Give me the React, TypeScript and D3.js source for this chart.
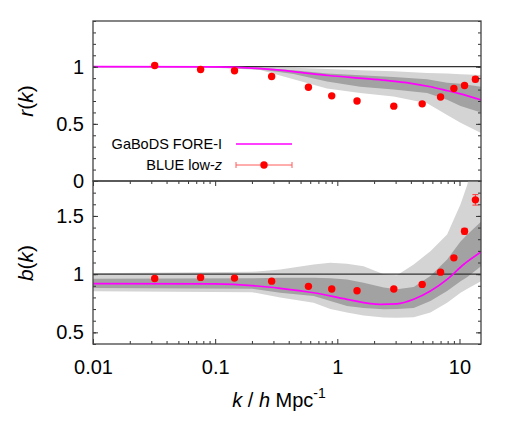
import React, { useEffect, useRef } from "react";
import * as d3 from "d3";

// BLUE low-z measurements
const pointK = [0.032, 0.076, 0.144, 0.29, 0.58, 0.9, 1.45, 2.9, 4.95, 7.0, 9.0, 11.0, 13.5];
const pointR = [1.01, 0.975, 0.965, 0.915, 0.82, 0.745, 0.7, 0.655, 0.675, 0.735, 0.81, 0.835, 0.89];
const pointRErr = [0.005, 0.004, 0.004, 0.004, 0.004, 0.004, 0.004, 0.004, 0.005, 0.006, 0.01, 0.015, 0.022];
const pointB = [0.963, 0.972, 0.966, 0.94, 0.895, 0.872, 0.858, 0.872, 0.912, 1.017, 1.14, 1.368, 1.638];
const pointBErr = [0.006, 0.006, 0.006, 0.006, 0.006, 0.006, 0.006, 0.006, 0.008, 0.01, 0.015, 0.025, 0.045];

// GaBoDS FORE-I, r(k)
const rLineK = [0.01, 0.1, 0.2, 0.34, 0.5, 0.85, 1.5, 2.5, 4, 5.8, 8, 10, 15];
const rLine = [1.0, 0.998, 0.988, 0.97, 0.95, 0.923, 0.9, 0.88, 0.855, 0.825, 0.79, 0.765, 0.71];
const rBandK = [0.01, 0.08, 0.234, 0.438, 0.823, 1.54, 2.89, 5.43, 7.92, 10.2, 15];
const rLightLo = [1.0, 0.995, 0.971, 0.89, 0.81, 0.77, 0.74, 0.68, 0.577, 0.51, 0.42];
const rLightHi = [1.0, 1.0, 0.995, 0.99, 0.98, 0.97, 0.96, 0.945, 0.94, 0.935, 0.927];
const rDarkLo = [1.0, 0.998, 0.975, 0.936, 0.87, 0.825, 0.8, 0.77, 0.71, 0.656, 0.6];
const rDarkHi = [1.0, 1.0, 0.99, 0.97, 0.94, 0.925, 0.91, 0.89, 0.86, 0.85, 0.825];

// GaBoDS FORE-I, b(k)
const bLineK = [0.01, 0.1, 0.22, 0.341, 0.64, 1.2, 2.25, 3.08, 4.22, 5.78, 7.92, 10.8, 15];
const bLine = [0.918, 0.916, 0.898, 0.878, 0.84, 0.784, 0.741, 0.745, 0.784, 0.855, 0.955, 1.083, 1.19];
const bBandK = [0.01, 0.2, 0.341, 0.64, 0.877, 1.2, 1.64, 2.4, 3.08, 4.22, 5.78, 7.92, 10.2, 11.6, 15];
const bLightLo = [0.852, 0.845, 0.8, 0.755, 0.7, 0.67, 0.645, 0.627, 0.625, 0.63, 0.67, 0.755, 0.84, 0.875, 0.94];
const bLightHi = [1.008, 1.02, 1.04, 1.083, 1.097, 1.09, 1.068, 1.0, 0.99, 1.083, 1.197, 1.34, 1.6, 1.77, 2.3];
const bDarkLo = [0.88, 0.875, 0.84, 0.812, 0.77, 0.726, 0.71, 0.698, 0.7, 0.71, 0.77, 0.855, 0.94, 0.975, 1.068];
const bDarkHi = [0.96, 0.965, 0.97, 0.968, 0.965, 0.955, 0.926, 0.885, 0.87, 0.89, 0.983, 1.126, 1.28, 1.34, 1.45];

const xTickVals = [0.01, 0.1, 1, 10];
const xTickLabels = ["0.01", "0.1", "1", "10"];
const rTickVals = [0, 0.5, 1];
const rTickLabels = ["0", "0.5", "1"];
const bTickVals = [0.5, 1, 1.5];
const bTickLabels = ["0.5", "1", "1.5"];

const FONT = "'Liberation Sans', Arial, Helvetica, sans-serif";

function App() {
    const ref = useRef(null);

    useEffect(() => {
        drawChart(ref.current);
    }, []);

    return <svg ref={ref} width={520} height={436}
        style={{ position: "absolute", left: 0, top: 0, background: "#fff" }} />;
}

function drawChart(node) {
    const svg = d3.select(node);
    svg.selectAll("*").remove();

    const left = 93, right = 481;
    const x = d3.scaleLog().domain([0.01, 15]).range([left, right]);
    const yR = d3.scaleLinear().domain([0, 1.4]).range([181, 21]);
    const yB = d3.scaleLinear().domain([0.4, 1.8]).range([344, 181]);

    const minorX = [];
    [0.01, 0.1, 1, 10].forEach(d => {
        for (let m = 2; m <= 9; m++) if (d * m <= 15) minorX.push(d * m);
    });

    const panel = (id, y, bandK, lLo, lHi, dLo, dHi, lineK, lineV, pv, pe, yTicks, yLabels, yMinor, xTicks) => {
        const [y1, y0] = y.range();
        const g = svg.append("g");

        g.append("clipPath").attr("id", id)
            .append("rect").attr("x", left).attr("y", y0).attr("width", right - left).attr("height", y1 - y0);

        const body = g.append("g").attr("clip-path", `url(#${id})`);
        const idx = d3.range(bandK.length);

        body.append("path")
            .attr("d", d3.area().x(i => x(bandK[i])).y0(i => y(lLo[i])).y1(i => y(lHi[i]))(idx))
            .attr("fill", "#d4d4d4");
        body.append("path")
            .attr("d", d3.area().x(i => x(bandK[i])).y0(i => y(dLo[i])).y1(i => y(dHi[i]))(idx))
            .attr("fill", "#a2a2a2");

        // reference line at 1
        body.append("line")
            .attr("x1", left).attr("x2", right)
            .attr("y1", y(1)).attr("y2", y(1))
            .attr("stroke", "#333").attr("stroke-width", 1.2);

        body.append("path")
            .attr("d", d3.line().curve(d3.curveMonotoneX)
                .x(i => x(lineK[i])).y(i => y(lineV[i]))(d3.range(lineK.length)))
            .attr("fill", "none")
            .attr("stroke", "#ff00ff")
            .attr("stroke-width", 1.7);

        // error bars
        pointK.forEach((k, i) => {
            const px = x(k);
            const eg = body.append("g").attr("stroke", "#ff3b3b").attr("stroke-width", 1);
            eg.append("line").attr("x1", px).attr("x2", px)
                .attr("y1", y(pv[i] - pe[i])).attr("y2", y(pv[i] + pe[i]));
            [pv[i] - pe[i], pv[i] + pe[i]].forEach(v => {
                eg.append("line").attr("x1", px - 3).attr("x2", px + 3)
                    .attr("y1", y(v)).attr("y2", y(v));
            });
        });
        body.selectAll("circle.pt")
            .data(pointK)
            .enter()
            .append("circle")
            .attr("cx", d => x(d))
            .attr("cy", (d, i) => y(pv[i]))
            .attr("r", 3.7)
            .attr("fill", "#ff0000");

        // y axes, ticks pointing inward
        const yAxisL = g.append("g").attr("transform", `translate(${left},0)`)
            .call(d3.axisLeft(y).tickValues(yTicks).tickSize(-5).tickPadding(9)
                .tickFormat((d, i) => yLabels[i]));
        g.append("g").attr("transform", `translate(${left},0)`)
            .call(d3.axisLeft(y).tickValues(yMinor).tickSize(-3).tickFormat(() => ""));
        g.append("g").attr("transform", `translate(${right},0)`)
            .call(d3.axisRight(y).tickValues(yTicks).tickSize(-5).tickFormat(() => ""));
        g.append("g").attr("transform", `translate(${right},0)`)
            .call(d3.axisRight(y).tickValues(yMinor).tickSize(-3).tickFormat(() => ""));
        yAxisL.selectAll("text").attr("font-size", 20).attr("font-family", FONT).attr("fill", "#000");

        if (xTicks) {
            const xb = g.append("g").attr("transform", `translate(0,${y1})`)
                .call(d3.axisBottom(x).tickValues(xTickVals).tickSize(-5).tickPadding(16)
                    .tickFormat((d, i) => xTickLabels[i]));
            g.append("g").attr("transform", `translate(0,${y1})`)
                .call(d3.axisBottom(x).tickValues(minorX).tickSize(-3).tickFormat(() => ""));
            g.append("g").attr("transform", `translate(0,${y0})`)
                .call(d3.axisTop(x).tickValues(xTickVals).tickSize(-5).tickFormat(() => ""));
            g.append("g").attr("transform", `translate(0,${y0})`)
                .call(d3.axisTop(x).tickValues(minorX).tickSize(-3).tickFormat(() => ""));
            xb.selectAll("text").attr("font-size", 20).attr("font-family", FONT).attr("fill", "#000");
        }

        g.selectAll(".domain").remove();
        g.selectAll(".tick line").attr("stroke", "#333");

        g.append("rect")
            .attr("x", left).attr("y", y0)
            .attr("width", right - left).attr("height", y1 - y0)
            .attr("fill", "none")
            .attr("stroke", "#444")
            .attr("stroke-width", 1.3);
    };

    const rMinor = d3.range(0, 15).map(d => d / 10);
    const bMinor = d3.range(4, 19).map(d => d / 10);

    panel("clipR", yR, rBandK, rLightLo, rLightHi, rDarkLo, rDarkHi, rLineK, rLine, pointR, pointRErr,
        rTickVals, rTickLabels, rMinor, false);
    panel("clipB", yB, bBandK, bLightLo, bLightHi, bDarkLo, bDarkHi, bLineK, bLine, pointB, pointBErr,
        bTickVals, bTickLabels, bMinor, true);

    // axis titles
    const rl = svg.append("text")
        .attr("transform", "translate(33,101) rotate(-90)")
        .attr("text-anchor", "middle")
        .attr("font-family", FONT).attr("font-size", 21);
    rl.append("tspan").attr("font-style", "italic").text("r");
    rl.append("tspan").text("(");
    rl.append("tspan").attr("font-style", "italic").text("k");
    rl.append("tspan").text(")");

    const bl = svg.append("text")
        .attr("transform", "translate(33,263) rotate(-90)")
        .attr("text-anchor", "middle")
        .attr("font-family", FONT).attr("font-size", 21);
    bl.append("tspan").attr("font-style", "italic").text("b");
    bl.append("tspan").text("(");
    bl.append("tspan").attr("font-style", "italic").text("k");
    bl.append("tspan").text(")");

    const xl = svg.append("text")
        .attr("x", 279).attr("y", 407)
        .attr("text-anchor", "middle")
        .attr("font-family", FONT).attr("font-size", 20);
    xl.append("tspan").attr("font-style", "italic").text("k");
    xl.append("tspan").text(" / ");
    xl.append("tspan").attr("font-style", "italic").text("h");
    xl.append("tspan").text(" Mpc");
    xl.append("tspan").attr("font-size", 14).attr("dy", -9).text("-1");

    // legend
    const lg = svg.append("g").attr("font-family", FONT).attr("font-size", 14.5);
    lg.append("text").attr("x", 222).attr("y", 149).attr("text-anchor", "end").text("GaBoDS FORE-I");
    lg.append("line").attr("x1", 236).attr("x2", 292).attr("y1", 144).attr("y2", 144)
        .attr("stroke", "#ff00ff").attr("stroke-width", 1.7);
    const t2 = lg.append("text").attr("x", 222).attr("y", 170).attr("text-anchor", "end");
    t2.append("tspan").text("BLUE low-");
    t2.append("tspan").attr("font-style", "italic").text("z");
    const eb = lg.append("g").attr("stroke", "#ff5a5a").attr("stroke-width", 1);
    eb.append("line").attr("x1", 236).attr("x2", 292).attr("y1", 165).attr("y2", 165);
    eb.append("line").attr("x1", 236).attr("x2", 236).attr("y1", 162).attr("y2", 168);
    eb.append("line").attr("x1", 292).attr("x2", 292).attr("y1", 162).attr("y2", 168);
    lg.append("circle").attr("cx", 264).attr("cy", 165).attr("r", 3.7).attr("fill", "#ff0000");
}

export default App;
